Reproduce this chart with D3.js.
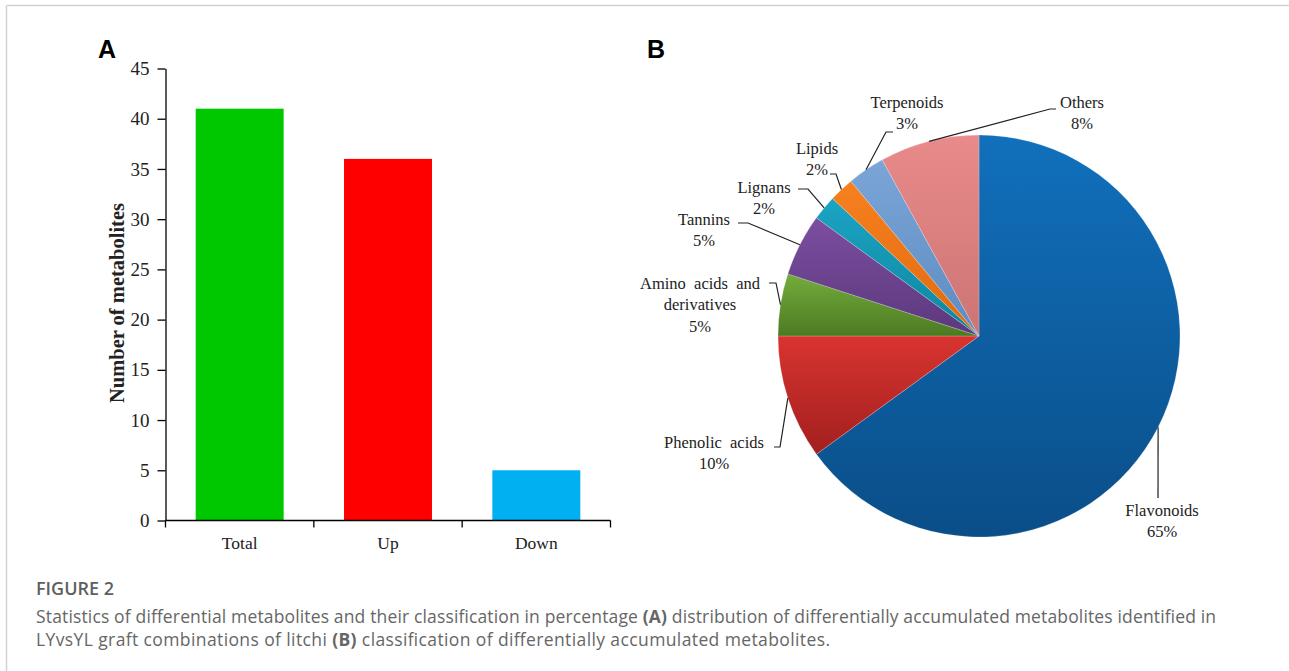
<!DOCTYPE html>
<html><head><meta charset="utf-8">
<script src="https://cdn.jsdelivr.net/npm/d3@7"></script>
<style>
html,body{margin:0;padding:0;background:#fff;}
svg{display:block;}
</style></head>
<body>
<svg id="chart" width="1289" height="671"></svg>
<script>
// ---- data ----
const barCategories = ["Total", "Up", "Down"];
const barValues = [41, 36, 5];
const barColors = ["#00C800", "#FF0000", "#00B0F0"];
const yTicks = [0, 5, 10, 15, 20, 25, 30, 35, 40, 45];

const pieCategories = ["Flavonoids", "Phenolic acids", "Amino acids and derivatives", "Tannins", "Lignans", "Lipids", "Terpenoids", "Others"];
const pieValues = [65, 10, 5, 5, 2, 2, 3, 8];
const pieLabelLines = [["Flavonoids"], ["Phenolic  acids"], ["Amino  acids  and", "derivatives"], ["Tannins"], ["Lignans"], ["Lipids"], ["Terpenoids"], ["Others"]];
const pieColorsTop = ["#1170BC", "#D9342F", "#74AC3C", "#7C4EA0", "#1BA4C3", "#F7801F", "#7AA5D8", "#EA8A8A"];
const pieColorsBottom = ["#0A4E88", "#A21F1F", "#4C7A22", "#5B387D", "#0E869F", "#E06A10", "#5E8CC0", "#CC7474"];

// ---- layout (positions only) ----
const pieLayout = {cx: 979, cy: 336, r: 201};
const labelLayout = [
  {x: 1162, y: 510, pts: [[1158, 498]]},
  {x: 714, y: 442, pts: [[780, 447], [774, 447]]},
  {x: 700, y: 283, pts: [[776, 283], [769, 283]]},
  {x: 704, y: 219, pts: [[748, 223], [738, 223]]},
  {x: 764, y: 187, pts: [[808, 189], [798, 189]]},
  {x: 817, y: 148, pts: [[836, 174], [830, 174]]},
  {x: 907, y: 102, pts: [[886, 132], [893, 132]]},
  {x: 1082, y: 102, pts: [[1050, 109], [1056, 109]]}
];

const svg = d3.select("#chart");
const serif = "'Liberation Serif','Times New Roman',serif";

// border
svg.append("line").attr("x1", 6.5).attr("x2", 1289).attr("y1", 5.5).attr("y2", 5.5).attr("stroke", "#d2d2d2").attr("stroke-width", 1.5);
svg.append("line").attr("x1", 6.5).attr("x2", 6.5).attr("y1", 5.5).attr("y2", 671).attr("stroke", "#d2d2d2").attr("stroke-width", 1.5);

// ---- Panel A: bar chart ----
const x = d3.scaleBand().domain(barCategories).range([165.5, 610.5]).paddingInner(0.407).paddingOuter(0.2035);
const y = d3.scaleLinear().domain([0, 45]).range([520.5, 68.5]);

svg.selectAll("rect.bar").data(barValues).enter().append("rect")
  .attr("class", "bar")
  .attr("x", (d, i) => x(barCategories[i]))
  .attr("width", x.bandwidth())
  .attr("y", d => y(d))
  .attr("height", d => y(0) - y(d))
  .attr("fill", (d, i) => barColors[i]);

const yAxis = svg.append("g").attr("transform", "translate(165.5,0)")
  .call(d3.axisLeft(y).tickValues(yTicks).tickSize(8).tickPadding(8).tickSizeOuter(0));
yAxis.select(".domain").attr("stroke", "#000").attr("stroke-width", 1.3);
yAxis.selectAll(".tick line").attr("stroke", "#000").attr("stroke-width", 1.3);
yAxis.selectAll("text").attr("font-family", serif).attr("font-size", "19px").attr("fill", "#222");

const xAxisG = svg.append("g").attr("transform", "translate(0,520.5)");
xAxisG.append("line").attr("x1", 165.5).attr("x2", 610.5).attr("y1", 0).attr("y2", 0).attr("stroke", "#000").attr("stroke-width", 1.3);
const step = x.step();
const bounds = d3.range(barCategories.length + 1).map(i => 165.5 + i * step);
xAxisG.selectAll("line.xt").data(bounds).enter().append("line").attr("class", "xt")
  .attr("x1", d => d).attr("x2", d => d).attr("y1", 0).attr("y2", 7).attr("stroke", "#000").attr("stroke-width", 1.3);
xAxisG.selectAll("text.xl").data(barCategories).enter().append("text").attr("class", "xl")
  .attr("x", d => x(d) + x.bandwidth() / 2).attr("y", 22).attr("dy", "0.35em")
  .attr("text-anchor", "middle").attr("font-family", serif).attr("font-size", "17.5px").attr("fill", "#222")
  .text(d => d);

svg.append("text").attr("transform", "translate(124,303) rotate(-90)")
  .attr("text-anchor", "middle").attr("font-family", serif).attr("font-weight", "bold").attr("font-size", "20.5px").attr("fill", "#222")
  .text("Number of metabolites");

svg.append("text").attr("x", 98).attr("y", 58).attr("font-family", "'Liberation Sans',Arial,sans-serif").attr("font-weight", "bold").attr("font-size", "25px").attr("fill", "#000").text("A");
svg.append("text").attr("x", 647).attr("y", 58).attr("font-family", "'Liberation Sans',Arial,sans-serif").attr("font-weight", "bold").attr("font-size", "25px").attr("fill", "#000").text("B");

// ---- Panel B: pie chart ----
const defs = svg.append("defs");
pieCategories.forEach((c, i) => {
  const g = defs.append("linearGradient").attr("id", "pg" + i).attr("x1", 0).attr("y1", 0).attr("x2", 0).attr("y2", 1);
  g.append("stop").attr("offset", "0%").attr("stop-color", pieColorsTop[i]);
  g.append("stop").attr("offset", "100%").attr("stop-color", pieColorsBottom[i]);
});

const pie = d3.pie().sort(null).value(d => d).startAngle(0).endAngle(2 * Math.PI);
const arcs = pie(pieValues);
const arc = d3.arc().innerRadius(0).outerRadius(pieLayout.r);
const pg = svg.append("g").attr("transform", `translate(${pieLayout.cx},${pieLayout.cy})`);
pg.selectAll("path").data(arcs).enter().append("path")
  .attr("d", arc)
  .attr("fill", (d, i) => `url(#pg${i})`)
  .attr("stroke", "rgba(255,255,255,0.35)").attr("stroke-width", 0.6);

arcs.forEach((a, i) => {
  const mid = (a.startAngle + a.endAngle) / 2;
  const sx = pieLayout.cx + pieLayout.r * Math.sin(mid);
  const sy = pieLayout.cy - pieLayout.r * Math.cos(mid);
  const L = labelLayout[i];
  const pts = [[sx, sy]].concat(L.pts);
  svg.append("path").attr("d", d3.line()(pts)).attr("fill", "none").attr("stroke", "#222").attr("stroke-width", 1.2);
  const lines = pieLabelLines[i].concat([pieValues[i] + "%"]);
  const t = svg.append("text").attr("font-family", serif).attr("font-size", "16.5px").attr("fill", "#222")
    .attr("text-anchor", "middle").style("white-space", "pre");
  lines.forEach((ln, k) => {
    t.append("tspan").attr("x", L.x).attr("y", L.y + k * 21.5).attr("dy", "0.35em").text(ln);
  });
});

// ---- caption ----
const cap = "'Open Sans','Noto Sans',sans-serif";
svg.append("text").attr("x", 36).attr("y", 595).attr("font-family", cap).attr("font-size", "18px").attr("font-weight", 600)
  .attr("fill", "#5f5f5f").text("FIGURE 2");
const c1 = svg.append("text").attr("x", 36).attr("y", 623).attr("font-family", cap).attr("font-size", "17.5px").attr("fill", "#666")
  .attr("textLength", 1180).attr("lengthAdjust", "spacing");
c1.append("tspan").text("Statistics of differential metabolites and their classification in percentage ");
c1.append("tspan").attr("font-weight", "bold").text("(A)");
c1.append("tspan").text(" distribution of differentially accumulated metabolites identified in");
const c2 = svg.append("text").attr("x", 36).attr("y", 646).attr("font-family", cap).attr("font-size", "17.5px").attr("fill", "#666")
  .attr("textLength", 794).attr("lengthAdjust", "spacing");
c2.append("tspan").text("LYvsYL graft combinations of litchi ");
c2.append("tspan").attr("font-weight", "bold").text("(B)");
c2.append("tspan").text(" classification of differentially accumulated metabolites.");
</script>
</body></html>
